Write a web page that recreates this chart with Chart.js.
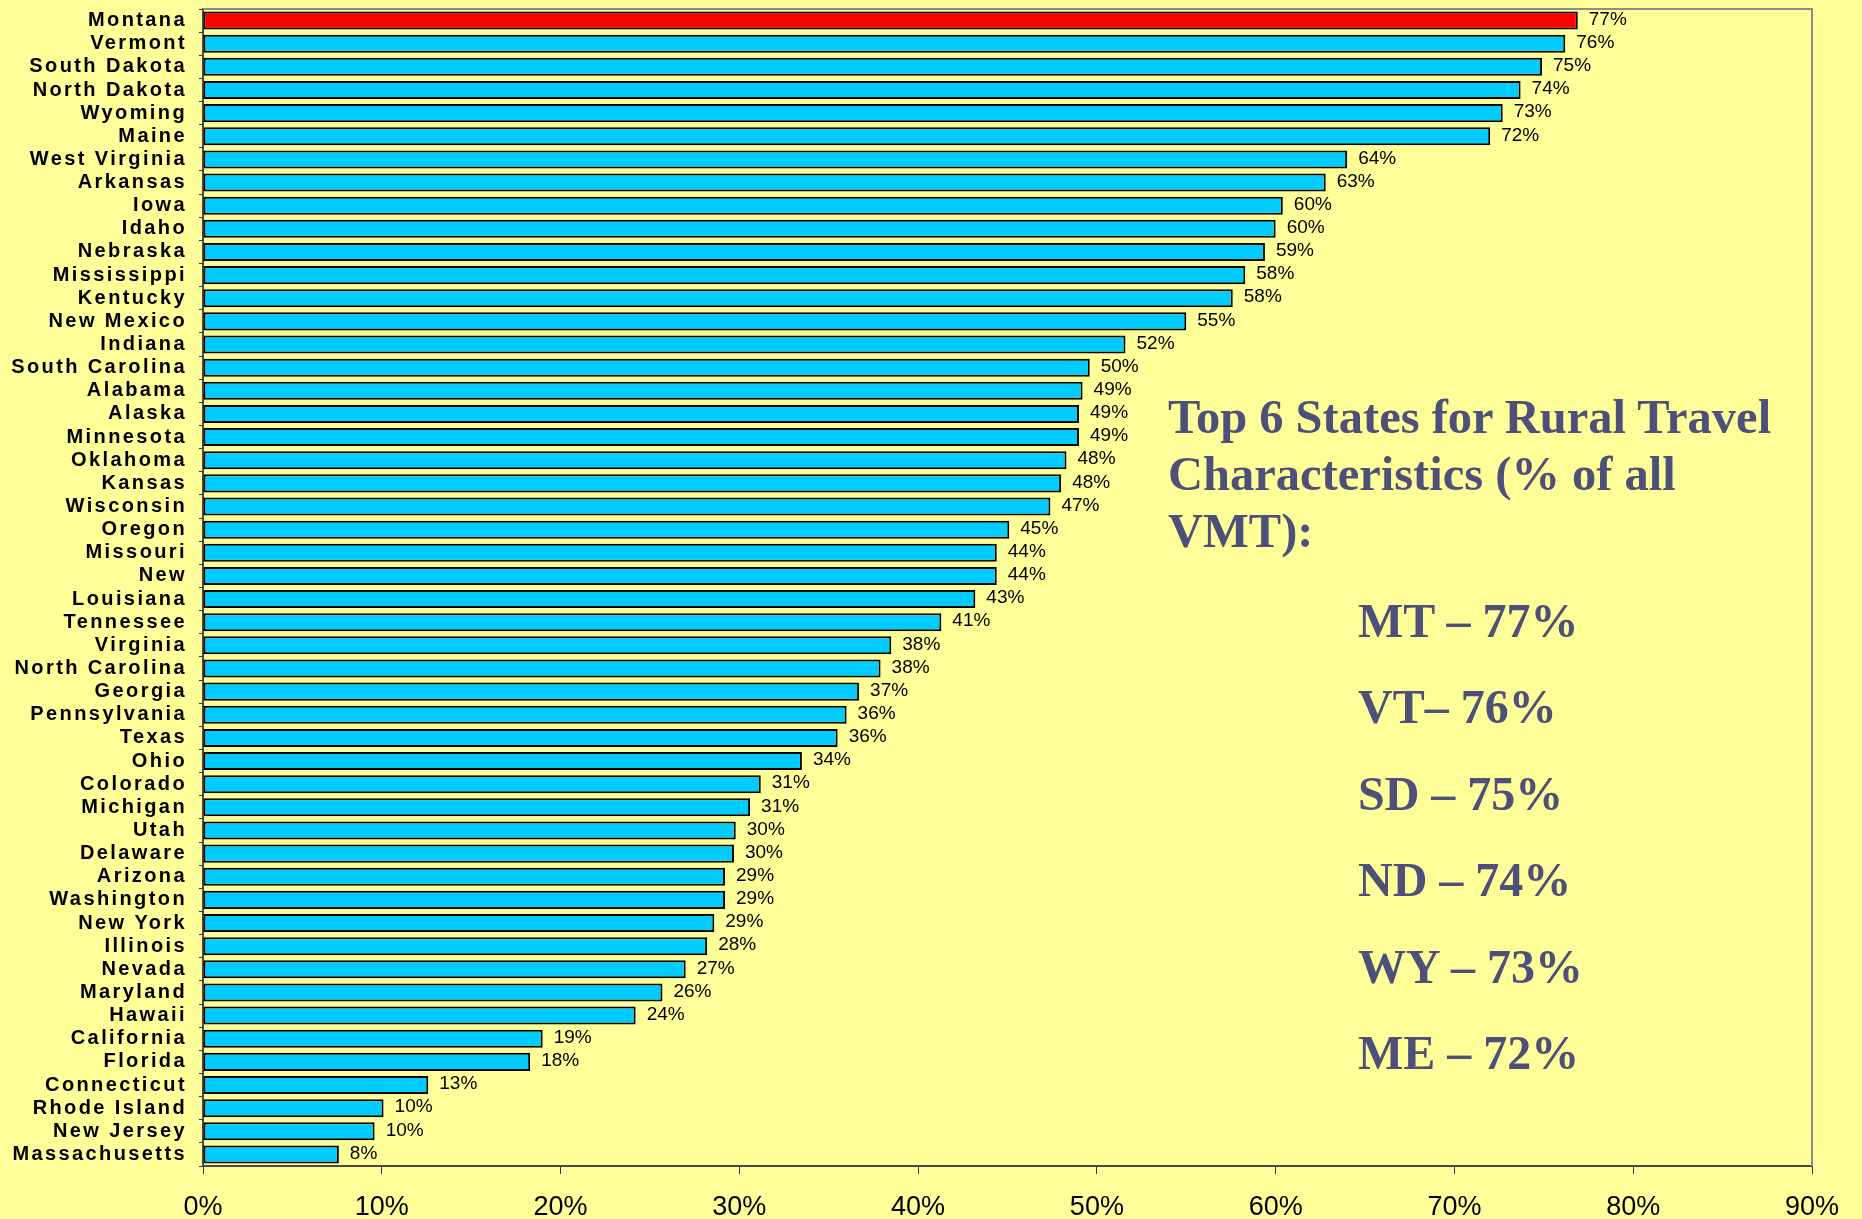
<!DOCTYPE html>
<html>
<head>
<meta charset="utf-8">
<title>Rural share of VMT by state</title>
<script src="https://cdn.jsdelivr.net/npm/chart.js@4.4.0/dist/chart.umd.min.js"></script>
<style>
  html, body { margin: 0; padding: 0; background: #ffff99; }
  #wrap { position: relative; width: 1862px; height: 1219px; overflow: hidden; }
  #ruralChart { position: absolute; left: 0; top: 0; }
  .note { position: absolute; font-family: "Liberation Serif", "Times New Roman", serif; font-weight: bold; color: #4e5079; white-space: nowrap; }
  #title { left: 1168px; top: 388px; font-size: 48.5px; line-height: 57px; }
  #top6 { left: 1358px; top: 578px; font-size: 48px; line-height: 86.4px; }
</style>
</head>
<body>
<div id="wrap">
  <canvas id="ruralChart" width="1862" height="1219"></canvas>
  <div class="note" id="title">Top 6 States for Rural Travel<br>Characteristics (% of all<br>VMT):</div>
  <div class="note" id="top6"></div>
</div>
<script>
// values (bar lengths), labels as printed next to the bars
const states = ['Montana', 'Vermont', 'South Dakota', 'North Dakota', 'Wyoming', 'Maine',
  'West Virginia', 'Arkansas', 'Iowa', 'Idaho', 'Nebraska', 'Mississippi', 'Kentucky',
  'New Mexico', 'Indiana', 'South Carolina', 'Alabama', 'Alaska', 'Minnesota', 'Oklahoma',
  'Kansas', 'Wisconsin', 'Oregon', 'Missouri', 'New', 'Louisiana', 'Tennessee', 'Virginia',
  'North Carolina', 'Georgia', 'Pennsylvania', 'Texas', 'Ohio', 'Colorado', 'Michigan',
  'Utah', 'Delaware', 'Arizona', 'Washington', 'New York', 'Illinois', 'Nevada', 'Maryland',
  'Hawaii', 'California', 'Florida', 'Connecticut', 'Rhode Island', 'New Jersey', 'Massachusetts'];

const ruralShare = [76.9, 76.2, 74.9, 73.7, 72.7, 72.0,
  64.0, 62.8, 60.4, 60.0, 59.4, 58.3, 57.6,
  55.0, 51.6, 49.6, 49.2, 49.0, 49.0, 48.3,
  48.0, 47.4, 45.1, 44.4, 44.4, 43.2, 41.3, 38.5,
  37.9, 36.7, 36.0, 35.5, 33.5, 31.2, 30.6,
  29.8, 29.7, 29.2, 29.2, 28.6, 28.2, 27.0, 25.7,
  24.2, 19.0, 18.3, 12.6, 10.1, 9.6, 7.6];

const shareLabels = ['77%', '76%', '75%', '74%', '73%', '72%',
  '64%', '63%', '60%', '60%', '59%', '58%', '58%',
  '55%', '52%', '50%', '49%', '49%', '49%', '48%',
  '48%', '47%', '45%', '44%', '44%', '43%', '41%', '38%',
  '38%', '37%', '36%', '36%', '34%', '31%', '31%',
  '30%', '30%', '29%', '29%', '29%', '28%', '27%', '26%',
  '24%', '19%', '18%', '13%', '10%', '10%', '8%'];

const xTickLabels = ['0%', '10%', '20%', '30%', '40%', '50%', '60%', '70%', '80%', '90%'];
const xMax = 90;
const highlightState = 'Montana';

const topStates = ['MT \u2013 77%', 'VT\u2013 76%', 'SD \u2013 75%', 'ND \u2013 74%', 'WY \u2013 73%', 'ME \u2013 72%'];

document.getElementById('top6').innerHTML = topStates.join('<br>');

const sans = '"Liberation Sans", Arial, sans-serif';

const labelSpacing = {      // spaced out state names like the original
  id: 'labelSpacing',
  beforeDraw(chart) { chart.ctx.letterSpacing = '2.4px'; },
  beforeDatasetsDraw(chart) { chart.ctx.letterSpacing = '0px'; }
};

const barValues = {         // percentage written after each bar
  id: 'barValues',
  afterDatasetsDraw(chart) {
    const ctx = chart.ctx;
    const meta = chart.getDatasetMeta(0);
    ctx.save();
    ctx.font = '19px ' + sans;
    ctx.fillStyle = '#000';
    ctx.textAlign = 'left';
    ctx.textBaseline = 'middle';
    meta.data.forEach((bar, i) => {
      ctx.fillText(shareLabels[i], bar.x + 11, bar.y - 1);
    });
    ctx.restore();
  }
};

const plotFrame = {         // grey frame on top and right of the plot
  id: 'plotFrame',
  afterDraw(chart) {
    const {ctx, chartArea} = chart;
    ctx.save();
    ctx.strokeStyle = '#8c8c8c';
    ctx.lineWidth = 2;
    ctx.beginPath();
    ctx.moveTo(chartArea.left, chartArea.top);
    ctx.lineTo(chartArea.right, chartArea.top);
    ctx.lineTo(chartArea.right, chartArea.bottom);
    ctx.stroke();
    ctx.restore();
  }
};

new Chart(document.getElementById('ruralChart'), {
  type: 'bar',
  data: {
    labels: states,
    datasets: [{
      data: ruralShare,
      backgroundColor: states.map(s => s === highlightState ? '#ff0000' : '#00ccff'),
      borderColor: '#000',
      borderWidth: 2,
      borderSkipped: false,
      barPercentage: 0.78,
      categoryPercentage: 1
    }]
  },
  options: {
    indexAxis: 'y',
    responsive: false,
    animation: false,
    layout: { padding: { top: 9, right: 50, left: 0, bottom: 0 } },
    plugins: { legend: { display: false }, tooltip: { enabled: false } },
    scales: {
      x: {
        type: 'linear',
        min: 0,
        max: xMax,
        afterFit: s => { s.height = 53; s.paddingLeft = 0; s.paddingRight = 0; },
        ticks: {
          stepSize: 10,
          z: 1,
          padding: 17,
          color: '#000',
          font: { size: 27, family: sans },
          callback: (v, i) => xTickLabels[i]
        },
        grid: { drawOnChartArea: false, tickLength: 8, color: '#333' },
        border: { color: '#4a4a4a', width: 2 }
      },
      y: {
        afterFit: s => { s.width = 203; s.paddingTop = 0; s.paddingBottom = 0; },
        ticks: {
          autoSkip: false,
          padding: 12,
          color: '#000',
          font: { size: 20, weight: 'bold', family: sans }
        },
        grid: { drawOnChartArea: false, tickLength: 4, color: '#333', offset: true },
        border: { color: '#4a4a4a', width: 2 }
      }
    }
  },
  plugins: [labelSpacing, barValues, plotFrame]
});
</script>
</body>
</html>
